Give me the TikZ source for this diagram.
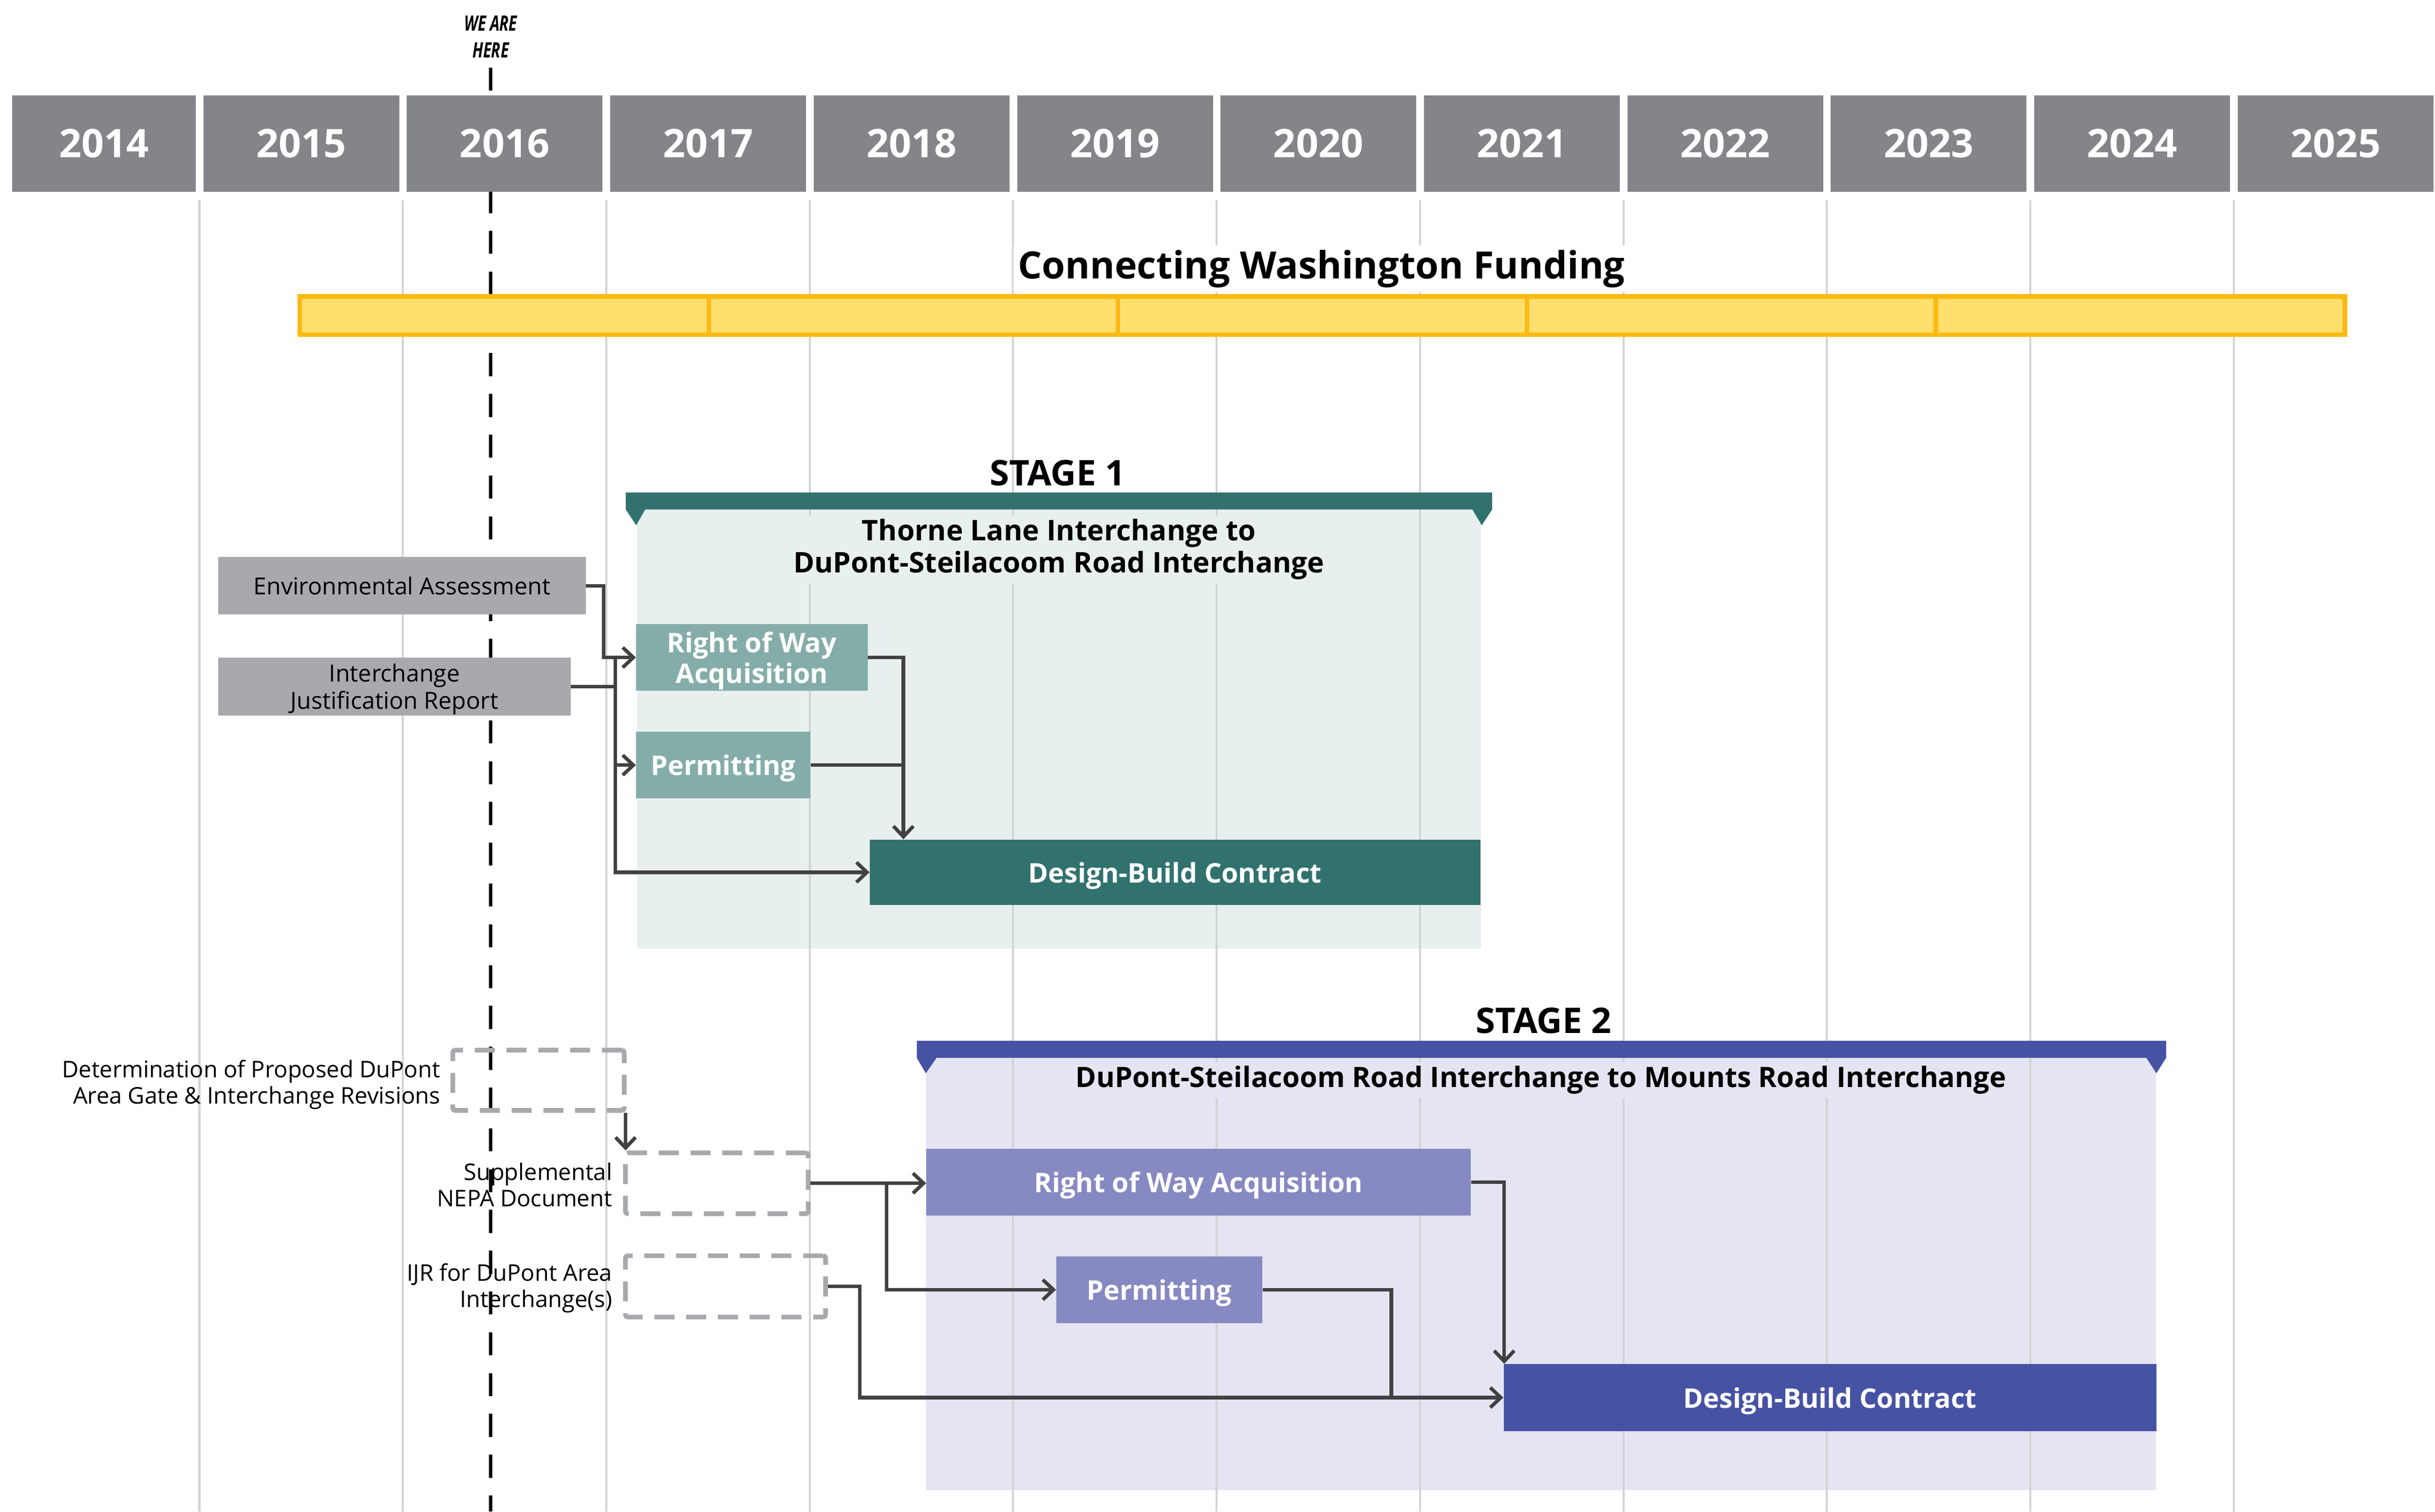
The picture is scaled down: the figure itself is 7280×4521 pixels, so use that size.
\documentclass[tikz,border=0pt]{standalone}
\usepackage{fontspec}
\setmainfont{Open Sans}
\newfontfamily\condfont{Open Sans}[FakeStretch=0.72]
\usetikzlibrary{arrows.meta,calc}
\definecolor{hdr}{HTML}{848589}
\definecolor{gridc}{HTML}{D1D3D4}
\definecolor{gbox}{HTML}{A7A9AC}
\definecolor{fundfill}{HTML}{FFDF6E}
\definecolor{fundline}{HTML}{FDB913}
\definecolor{tealdark}{HTML}{31726F}
\definecolor{teallight}{HTML}{84ADA9}
\definecolor{tealpanel}{HTML}{E8F0EF}
\definecolor{bluedark}{HTML}{4652A3}
\definecolor{bluelight}{HTML}{8689C2}
\definecolor{bluepanel}{HTML}{E4E4F2}
\definecolor{connc}{HTML}{414042}
\begin{document}
\begin{tikzpicture}[x=0.01cm,y=-0.01cm,
  spot/.style n args={4}{at={({(#1+#3)/2},{(#2+#4)/2})},
     minimum width={(#3-#1)*0.284528pt}, minimum height={(#4-#2)*0.284528pt}},
  box/.style={rectangle, inner sep=0pt, align=center, text depth=0pt},
  yearbox/.style={box, fill=hdr, text=white, font=\fontsize{33.5}{40}\selectfont\bfseries},
  graybox/.style={box, fill=gbox, text=black, font=\fontsize{20}{23}\selectfont},
  tealbox/.style={box, fill=teallight, text=white, font=\fontsize{23}{26}\selectfont\bfseries},
  tealdb/.style={box, fill=tealdark, text=white, font=\fontsize{23}{26}\selectfont\bfseries},
  bluebox/.style={box, fill=bluelight, text=white, font=\fontsize{23}{26}\selectfont\bfseries},
  bluedb/.style={box, fill=bluedark, text=white, font=\fontsize{23}{26}\selectfont\bfseries},
  dashbox/.style={box, draw=gbox, line width=4pt, dash pattern=on 17pt off 10pt, rounded corners=2pt},
  lbl/.style={font=\fontsize{19.5}{22.5}\selectfont, align=right, inner sep=0pt},
  gridline/.style={draw=gridc, line width=1.7pt},
  fundseg/.style={draw=fundline, fill=fundfill, line width=4pt},
  weline/.style={draw=black, line width=2.85pt, dash pattern=on 19.6pt off 15.1pt},
  connector/.style={draw=connc, line width=3pt},
  arr/.style={connector, -{Straight Barb[length=9pt,width=17pt]}},
  stagetitle/.style={font=\fontsize{30}{34}\selectfont\bfseries, anchor=base, inner sep=0pt},
  subtitle/.style={font=\fontsize{24.3}{27.6}\selectfont\bfseries, align=center, inner sep=3pt}
]
\useasboundingbox[fill=white] (0,0) rectangle (7280,4521);

% stage panels
\fill[tealpanel] (1904,1524) rectangle (4427,2837);
\fill[bluepanel] (2768,3164) rectangle (6446,4457);

% grid lines
\foreach \k in {1,...,11} {
  \draw[gridline] ({608.2*\k-12},599) -- ({608.2*\k-12},4521);
}

% WE ARE HERE marker
\node[font=\fontsize{18}{23}\selectfont\condfont\bfseries\itshape, align=center, inner sep=0pt] (weh) at (1467,110) {WE ARE\\HERE};
\coordinate (wtop) at (1467,202);
\coordinate (wbot) at (1467,4521);
\draw[weline] (wtop) -- (wbot);

% year header
\foreach \k in {0,...,11} {
  \pgfmathtruncatemacro\yr{2014+\k}
  \pgfmathsetmacro\xl{ifthenelse(\k==0,37,608.2*\k)}
  \pgfmathsetmacro\xr{608.2*\k+585}
  \node[yearbox, spot={\xl}{285}{\xr}{573}] (y\yr) {\yr};
}

% funding
\foreach \i in {0,...,4} {
  \draw[fundseg] ({896+1223*\i},887) rectangle ({896+1223*(\i+1)},1001);
}
\node[font=\fontsize{32}{36}\selectfont\bfseries, anchor=base, fill=white, inner sep=4pt] (fund) at (3951,833) {Connecting Washington Funding};

% ---------- STAGE 1 ----------
\fill[tealdark] (1871,1473) -- (4461,1473) -- (4461,1524) -- (4430,1571) -- (4402,1524)
  -- (1929,1524) -- (1902,1571) -- (1871,1524) -- cycle;
\node[stagetitle] (st1) at (3162,1452) {STAGE 1};
\node[subtitle, fill=tealpanel, font=\fontsize{24.2}{27.6}\selectfont\bfseries] (st1sub) at (3166,1643) {Thorne Lane Interchange to\\DuPont-Steilacoom Road Interchange};

\node[graybox, spot={653}{1666}{1751}{1838}] (ea) {Environmental Assessment};
\node[graybox, spot={653}{1967}{1706}{2140}] (ijr) {Interchange\\Justification Report};
\node[tealbox, spot={1902}{1867}{2594}{2066}] (row1) {Right of Way\\Acquisition};
\node[tealbox, spot={1902}{2189}{2423}{2388}] (per1) {Permitting};
\node[tealdb, spot={2601}{2511}{4425}{2707}] (db1) {Design-Build Contract};

\draw[arr] (ea.east) -- ++(53,0) |- (row1.west);
\draw[connector] (ijr.east) -- ++(133,0) coordinate (j1);
\draw[arr] (j1 |- row1.west) |- (db1.west);
\draw[arr] (j1 |- per1.west) -- (per1.west);
\draw[arr] (row1.east) -- ++(106,0) coordinate (k1) -- (k1 |- db1.north);
\draw[connector] (per1.east) -- (per1.east -| k1);

% ---------- STAGE 2 ----------
\fill[bluedark] (2741,3113) -- (6476,3113) -- (6476,3164) -- (6447,3210) -- (6417,3164)
  -- (2800,3164) -- (2768,3210) -- (2741,3164) -- cycle;
\node[stagetitle] (st2) at (4615,3090) {STAGE 2};
\node[subtitle, fill=bluepanel, anchor=base, font=\fontsize{23.9}{27.6}\selectfont\bfseries] (st2sub) at (4607,3252) {DuPont-Steilacoom Road Interchange to Mounts Road Interchange};

\node[dashbox, spot={1354}{3141}{1866}{3321}] (d1) {};
\node[dashbox, spot={1870}{3448}{2416}{3630}] (d2) {};
\node[dashbox, spot={1870}{3756}{2468}{3939}] (d3) {};
\node[lbl, anchor=east] (d1l) at ($(d1.west)+(-30,13)$) {Determination of Proposed DuPont\\Area Gate \& Interchange Revisions};
\node[lbl, anchor=east] (d2l) at ($(d2.west)+(-32,5)$) {Supplemental\\NEPA Document};
\node[lbl, anchor=east] (d3l) at ($(d3.west)+(-32,5)$) {IJR for DuPont Area\\Interchange(s)};

\node[bluebox, spot={2770}{3436}{4397}{3636}] (row2) {Right of Way Acquisition};
\node[bluebox, spot={3158}{3758}{3774}{3957}] (per2) {Permitting};
\node[bluedb, spot={4496}{4080}{6447}{4280}] (db2) {Design-Build Contract};

\draw[arr] ($(d1.south east)+(-3,0)$) -- ($(d1.south east |- d2.north)+(-3,0)$);
\draw[arr] (d2.east) -- (row2.west |- d2.east);
\draw[arr] (d2.east) -- ++(227,0) coordinate (k2) |- (per2.west);
\draw[arr] (d3.east) -- ++(95,0) |- (db2.west);
\draw[arr] (row2.east) -- ++(99,0) coordinate (k3) -- (k3 |- db2.north);
\draw[connector] (per2.east) -- ++(385,0) coordinate (k4) -- (k4 |- db2.west);
\end{tikzpicture}
\end{document}
